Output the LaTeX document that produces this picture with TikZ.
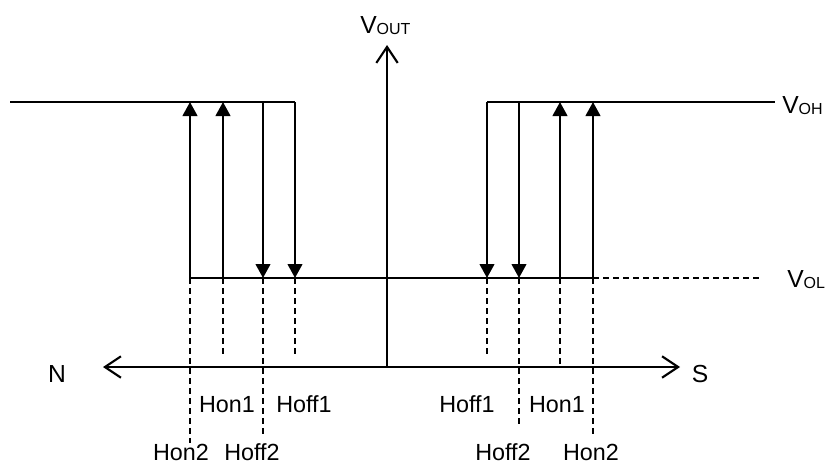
\documentclass[tikz,border=0pt]{standalone}
\usepackage{fontspec}
\setmainfont{Liberation Sans}
\usetikzlibrary{arrows.meta}
\begin{document}
\begin{tikzpicture}[x=0.75pt,y=-0.75pt,
  solidline/.style={line width=1.6pt},
  dline/.style={line width=1.3pt, dash pattern=on 4.5pt off 3pt},
  axis/.style={line width=1.6pt, -{Straight Barb[length=12pt,width=16pt,line width=1.6pt]}},
  trans/.style={line width=1.6pt, -{Triangle[length=10.5pt,width=11pt]}},
  vlbl/.style={font=\fontsize{18.5}{22}\selectfont, inner sep=0pt, anchor=base west},
  hlbl/.style={font=\fontsize{17.5}{21}\selectfont, inner sep=0pt, anchor=base},
  nslbl/.style={font=\fontsize{18.5}{22}\selectfont, inner sep=0pt, anchor=base}]
\useasboundingbox (0,0) rectangle (826,464);
\newcommand{\sublbl}[1]{\raisebox{-0.15ex}{\fontsize{12}{14}\selectfont #1}}

% axes
\coordinate (o) at (387,367);
\coordinate (vtop) at (387,45);
\coordinate (nleft) at (103,367);
\coordinate (sright) at (680,367);
\draw[axis] (o) -- (vtop);
\draw[axis] (o) -- (nleft);
\draw[axis] (o) -- (sright);

% levels
\coordinate (ltop0) at (10,102);
\coordinate (ltop1) at (295,102);
\coordinate (rtop0) at (487,102);
\coordinate (rtop1) at (775,102);
\draw[solidline] (ltop0) -- (ltop1);
\draw[solidline] (rtop0) -- (rtop1);

\coordinate (bot0) at (190,278);
\coordinate (bot1) at (593,278);
\coordinate (bot2) at (763,278);
\draw[solidline] (bot0) -- (bot1);
\draw[dline] (bot1) -- (bot2);

% transition lines
\foreach \n/\x in {a/190,b/223,c/263,d/295,e/487,f/519,g/560,h/593}{
  \coordinate (\n H) at (\x,102);
  \coordinate (\n L) at (\x,278);
}
\draw[trans] (aL) -- (aH);
\draw[trans] (bL) -- (bH);
\draw[trans] (cH) -- (cL);
\draw[trans] (dH) -- (dL);
\draw[trans] (eH) -- (eL);
\draw[trans] (fH) -- (fL);
\draw[trans] (gL) -- (gH);
\draw[trans] (hL) -- (hH);

% dashed projections
\coordinate (aE) at (190,443);
\coordinate (bE) at (223,357);
\coordinate (cE) at (263,435);
\coordinate (dE) at (295,358);
\coordinate (eE) at (487,358);
\coordinate (fE) at (519,425);
\coordinate (gE) at (560,367);
\coordinate (hE) at (593,438);
\foreach \n in {a,b,c,d,e,f,g,h}{
  \draw[dline] (\n L) -- (\n E);
}

% labels
\node[vlbl] (vout) at (360,33) {V\sublbl{OUT}};
\node[vlbl] (voh) at (782,113) {V\sublbl{OH}};
\node[vlbl] (vol) at (787,287) {V\sublbl{OL}};
\node[nslbl] (nlab) at (57,382) {N};
\node[nslbl] (slab) at (700,382) {S};

\node[hlbl] (lhon1) at (227,412) {Hon1};
\node[hlbl] (lhoff1) at (304,412) {Hoff1};
\node[hlbl] (lhon2) at (181,460) {Hon2};
\node[hlbl] (lhoff2) at (252,460) {Hoff2};
\node[hlbl] (rhoff1) at (467,412) {Hoff1};
\node[hlbl] (rhon1) at (557,412) {Hon1};
\node[hlbl] (rhoff2) at (503,460) {Hoff2};
\node[hlbl] (rhon2) at (591,460) {Hon2};
\end{tikzpicture}
\end{document}
